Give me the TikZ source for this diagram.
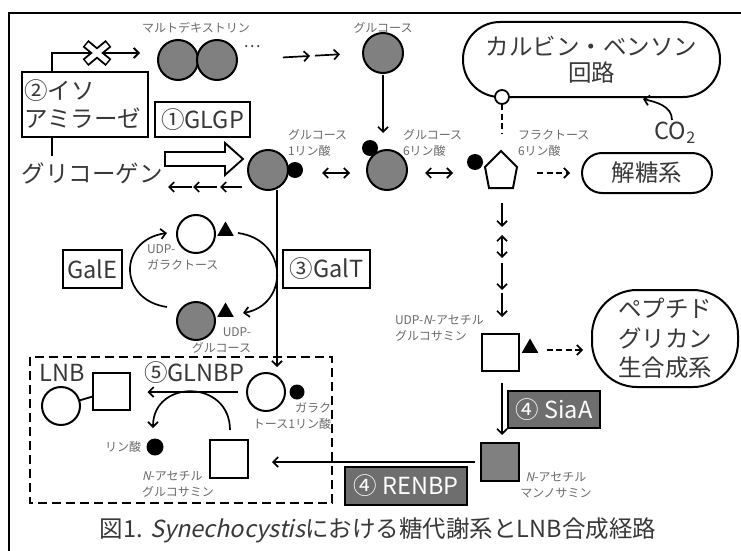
\documentclass[tikz,border=0pt]{standalone}
\usepackage{fontspec}
\setmainfont{Noto Sans CJK JP}
\newfontfamily\jpit[FakeSlant=0.22]{Noto Sans CJK JP}
\usetikzlibrary{arrows.meta,calc,shapes.geometric}
\definecolor{gfill}{HTML}{808080}
\definecolor{efill}{HTML}{6E6E6E}
\definecolor{txt}{HTML}{383838}
\definecolor{lbl}{HTML}{6A6A6A}
\newcommand{\bigfnt}{\fontsize{23.5}{28}\selectfont}
\newcommand{\smallfnt}{\fontsize{12}{16}\selectfont}
\begin{document}
\begin{tikzpicture}[x=1pt,y=-1pt,
  every node/.style={inner sep=0pt, outer sep=0pt},
  sugar/.style={circle, draw, line width=2pt, minimum size=40pt},
  gsugar/.style={sugar, fill=gfill},
  wsugar/.style={sugar, fill=white},
  pdot/.style={circle, fill=black, minimum size=16pt},
  tri/.style={regular polygon, regular polygon sides=3, fill=black, minimum size=19pt},
  sqbox/.style={draw, line width=2pt, minimum size=38pt},
  lab/.style={font=\smallfnt, text=lbl},
  bigtxt/.style={font=\bigfnt, text=txt},
  enz/.style={draw, line width=1.9pt, font=\bigfnt, text=txt},
  genz/.style={draw, line width=1.9pt, fill=efill, font=\bigfnt, text=white},
  arr/.style={-{Straight Barb[length=5pt,width=10pt]}, line width=1.7pt},
  darr/.style={{Straight Barb[length=5pt,width=10pt]}-{Straight Barb[length=5pt,width=10pt]}, line width=1.7pt},
  dsh/.style={dash pattern=on 6pt off 3.5pt},
]
\useasboundingbox (0,0) rectangle (741,551);
\clip (0,0) rectangle (741,551);
\draw[line width=2pt] (9,13) rectangle (760,580);

% top row
\node[lab] (mdlab) at (196,28) {マルトデキストリン};
\node[gsugar] (md1) at (178,60) {};
\node[gsugar] (md2) at (217,60) {};
\node[font=\fontsize{16}{16}\selectfont, text=txt] (mddots) at (252,47) {…};
\node[lab] (glclab) at (383,28) {グルコース};
\node[gsugar] (glc) at (383,53) {};
\draw[arr, shorten <=46pt, shorten >=53pt] (md2.east) -- (glc.west);
\draw[arr, shorten <=78pt, shorten >=23pt] (md2.east) -- (glc.west);

% isoamylase, GLGP, glycogen
\node[enz, minimum width=126pt, minimum height=65pt, text width=122pt, align=left] (iso) at (85,104.5) {②イソ\\アミラーゼ};
\node[enz, minimum width=95pt, minimum height=35pt] (glgp) at (202.5,119.5) {①GLGP};
\node[bigtxt] (glyc) at (92,173) {グリコーゲン};
\draw[line width=1.8pt, shorten >=6pt] ([xshift=-33pt]iso.south) -- ([xshift=-33pt]iso.south |- glyc.north);
\draw[arr, line width=1.8pt, shorten >=18pt] ([xshift=-33pt]iso.north) |- ([yshift=7pt]md1.west);
\begin{scope}[shift={(97,53)}]
  \draw[line width=9pt] (-11.5,-9.5) -- (11.5,9.5) (-11.5,9.5) -- (11.5,-9.5);
  \draw[white, line width=5.2pt] (-10.3,-8.5) -- (10.3,8.5) (-10.3,8.5) -- (10.3,-8.5);
\end{scope}

% glucose phosphates
\node[gsugar] (g1) at (268,170) {};
\node[pdot] (g1d) at (295,170) {};
\node[lab, align=left, anchor=west] (g1lab) at (288,143) {グルコース\\1リン酸};
\node[gsugar] (g6) at (387,170) {};
\node[pdot] (g6d) at (370,148) {};
\node[lab, align=left, anchor=west] (g6lab) at (403,143) {グルコース\\6リン酸};
\coordinate (f6p) at (501,170);
\draw[line width=2pt, fill=white] ($(f6p)+(0,-19)$) -- ($(f6p)+(16,-3)$) -- ($(f6p)+(12,18)$) -- ($(f6p)+(-12,18)$) -- ($(f6p)+(-16,-3)$) -- cycle;
\node[pdot] (f6d) at (475,162) {};
\node[lab, align=left, anchor=west] (f6lab) at (518,143) {フラクトース\\6リン酸};
\draw[darr] ([xshift=19pt,yshift=-3pt]g1d.east) -- ([xshift=-17pt,yshift=-3pt]g6.west);
\draw[darr] ([xshift=18pt,yshift=-3pt]g6.east) -- ([xshift=-14pt,yshift=-11pt]f6d.west);
\draw[arr] ([yshift=-2pt]glc.south) -- ([yshift=7pt]g6d.north -| glc.south);

% big arrow and reverse arrows
\draw[line width=1.9pt, fill=white] (165,152) -- (225,152) -- (225,143) -- (243,159) -- (225,175) -- (225,166) -- (165,166) -- cycle;
\draw[arr] ($(g1)+(-26,17)$) -- ++(-22,0);
\draw[arr] ($(g1)+(-51,17)$) -- ++(-24,0);
\draw[arr] ($(g1)+(-76,17)$) -- ++(-24,0);

% Calvin cycle, CO2, glycolysis
\node[draw, line width=2pt, rounded corners=37pt, minimum width=257pt, minimum height=75pt, align=center, font=\fontsize{23.5}{26}\selectfont, text=txt] (calvin) at (591.5,59.5) {カルビン・ベンソン\\回路};
\node[circle, draw, line width=1.8pt, fill=white, minimum size=14pt] (cbc) at (502,97) {};
\draw[line width=2pt, dsh] (cbc.south) -- ($(f6p)+(1,-37)$);
\node[bigtxt] (co2) at (675,133) {CO\raisebox{-4pt}{\fontsize{16}{16}\selectfont 2}};
\draw[arr] ($(co2)+(-3,-13)$) .. controls ($(co2)+(-3,-27)$) and ($(calvin.south)+(64.5,5)$) .. ($(calvin.south)+(51.5,2)$);
\node[draw, line width=2pt, rounded corners=20pt, minimum width=130pt, minimum height=40pt, bigtxt] (glyco) at (647,173) {解糖系};
\draw[arr, dsh] ($(f6p)+(36,3)$) -- ([xshift=-12pt]glyco.west);

% down to UDP-GlcNAc
\node[sqbox, fill=white, minimum size=37pt] (gna) at (500,352) {};
\node[tri] (gnat) at (530,348) {};
\node[lab, align=left, anchor=west] (gnalab) at (395,328) {UDP-{\jpit N}-アセチル\\グルコサミン};
\coordinate (f6b) at ($(f6p)+(1,18)$);
\draw[arr] ($(f6b)+(0,15)$) -- ($(f6b)+(0,39)$);
\draw[darr] ($(f6b)+(0,47)$) -- ($(f6b)+(0,70)$);
\draw[arr] ($(f6b)+(0,75)$) -- ($(f6b)+(0,102)$);
\draw[arr] ($(f6b)+(0,105)$) -- ([xshift=2pt,yshift=16.5pt]gna.north);
\node[draw, line width=2pt, rounded corners=45pt, minimum width=146pt, minimum height=97pt, align=center, font=\fontsize{23.5}{29.5}\selectfont, text=txt] (pgn) at (665,338.5) {ペプチド\\グリカン\\生合成系};
\draw[arr, dsh] ([xshift=28pt,yshift=2pt]gna.east) -- ([xshift=-9pt,yshift=-11.5pt]pgn.west);

% SiaA, ManNAc, RENBP
\node[sqbox, fill=gfill] (mna) at (500,462) {};
\draw[arr] ([xshift=2pt,yshift=-12pt]gna.south) -- ([xshift=2pt,yshift=8pt]mna.north);
\node[genz, minimum width=92pt, minimum height=37pt] (siaa) at (554,409.5) {④ SiaA};
\node[lab, align=center] (mnalab) at (556,485.5) {{\jpit N}-アセチル\\マンノサミン};
\node[genz, minimum width=122pt, minimum height=38pt] (renbp) at (406,486) {④ RENBP};

% UDP-Gal / UDP-Glc cycle
\node[wsugar, minimum size=38pt] (ugal) at (196,234) {};
\node[tri] (ugalt) at (225.5,231) {};
\node[lab, align=left, anchor=west] (ugallab) at (147,257.5) {UDP-\\ガラクトース};
\node[gsugar, minimum size=38pt] (uglc) at (196,321) {};
\node[tri] (uglct) at (225.5,312) {};
\node[lab, align=right, anchor=east] (uglclab) at (251,341) {UDP-\\グルコース};
\draw[arr] ($(uglc)+(-29,-14)$) .. controls ($(uglc)+(-78,-21)$) and ($(ugal)+(-78,6)$) .. ($(ugal)+(-29,-1)$);
\draw[arr] ($(ugal)+(42,-1)$) .. controls ($(ugal)+(93,6)$) and ($(uglc)+(93,-16)$) .. ($(uglc)+(47,-8)$);
\node[enz, minimum width=59pt, minimum height=38pt] (gale) at (92.5,269) {GalE};
\node[enz, minimum width=87pt, minimum height=38pt] (galt) at (326.5,269) {③GalT};

% LNB synthesis box
\draw[line width=2.2pt, dash pattern=on 9pt off 5pt] (30,357) rectangle (332,503);
\node[bigtxt] (lnbt) at (62,373) {LNB};
\node[wsugar, minimum size=38pt] (lnbc) at (61,406) {};
\node[sqbox, fill=white, minimum size=37pt] (lnbs) at (111,391) {};
\draw[line width=1.8pt] (lnbc) -- (lnbs);
\node[bigtxt] (glnbp) at (194,373) {⑤GLNBP};
\node[wsugar, minimum size=38pt] (gal1p) at (266,392) {};
\node[pdot, minimum size=15pt] (gal1pd) at (297,392) {};
\node[lab, align=right, anchor=east] (gal1plab) at (331,416.5) {ガラク\\トース1リン酸};
\draw[arr] ([xshift=9pt]g1.south) -- ([xshift=11pt,yshift=6pt]gal1p.north);
\draw[arr] ([xshift=-9pt]gal1p.west) -- ([xshift=18pt,yshift=-1pt]lnbs.east);
\node[sqbox, fill=white] (nag) at (229,459) {};
\draw[arr] ($(nag.north)+(1,-10)$) .. controls ($(nag.north)+(1,-61)$) and ($(nag.north)+(-76,-61)$) .. ($(nag.north)+(-76,-12)$);
\node[lab] (rlab) at (123,447) {リン酸};
\node[pdot, minimum size=17pt] (rp) at (155,447) {};
\node[lab, align=left, anchor=west] (naglab) at (142,484.5) {{\jpit N}-アセチル\\グルコサミン};
\draw[arr] ([xshift=-6pt]mna.west) -- ([xshift=24pt,yshift=-3pt]nag.east);

% caption
\node[bigtxt] (cap) at (378,530) {図1. {\jpit Synechocystis}における糖代謝系とLNB合成経路};
\end{tikzpicture}
\end{document}
